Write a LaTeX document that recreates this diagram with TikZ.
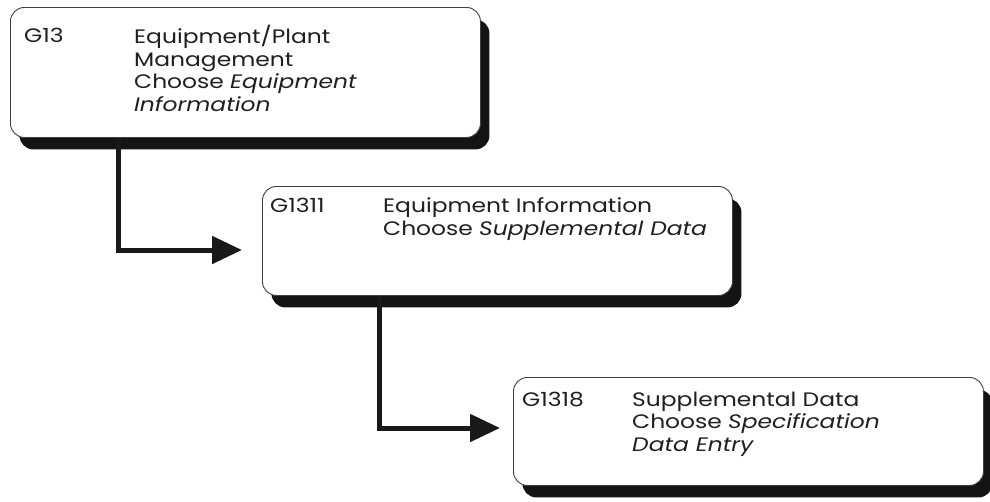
\documentclass[tikz,border=0pt]{standalone}
\usepackage{fontspec}
\setmainfont[FakeStretch=1.2]{Poppins}
\usetikzlibrary{arrows.meta,shadows}
\begin{document}
\begin{tikzpicture}[x=1pt,y=-1pt,
  menubox/.style={draw=black!75, line width=0.9pt, fill=white, rounded corners=14pt,
    anchor=north west, inner sep=0pt,
    drop shadow={shadow xshift=9pt, shadow yshift=-12pt, fill=black!92, opacity=1}},
  label/.style={anchor=north west, inner sep=0pt, align=left,
    font=\fontsize{19.5}{22.5}\selectfont, text=black!88},
  conn/.style={line width=5pt, black!90, -{Triangle[length=30pt,width=27pt]}}]
\useasboundingbox (0,0) rectangle (990,501);
% strut fixing the top of every first text line
\newcommand\topline{\rule{0pt}{17pt}}

% menu boxes
\node[menubox, minimum width=470pt, minimum height=130pt] (b1) at (10,7) {};
\node[menubox, minimum width=470pt, minimum height=109pt] (b2) at (262,186) {};
\node[menubox, minimum width=470pt, minimum height=108pt] (b3) at (513,377) {};

% menu codes and titles
\node[label] (c1) at (24,25) {\topline G13};
\node[label] (t1) at (134,25) {\topline Equipment/Plant\\Management\\Choose \textit{Equipment}\\\textit{Information}};
\node[label] (c2) at (270,195.5) {\topline G1311};
\node[label] (t2) at (383,195.5) {\topline Equipment Information\\Choose \textit{Supplemental Data}};
\node[label] (c3) at (522,389) {\topline G1318};
\node[label] (t3) at (632,389) {\topline Supplemental Data\\Choose \textit{Specification}\\\textit{Data Entry}};

% connectors
\coordinate (a1) at (242,250);
\coordinate (a2) at (500,428);
\draw[conn] ([xshift=108pt]b1.south west) |- (a1);
\draw[conn] ([xshift=117pt]b2.south west) |- (a2);
\end{tikzpicture}
\end{document}
